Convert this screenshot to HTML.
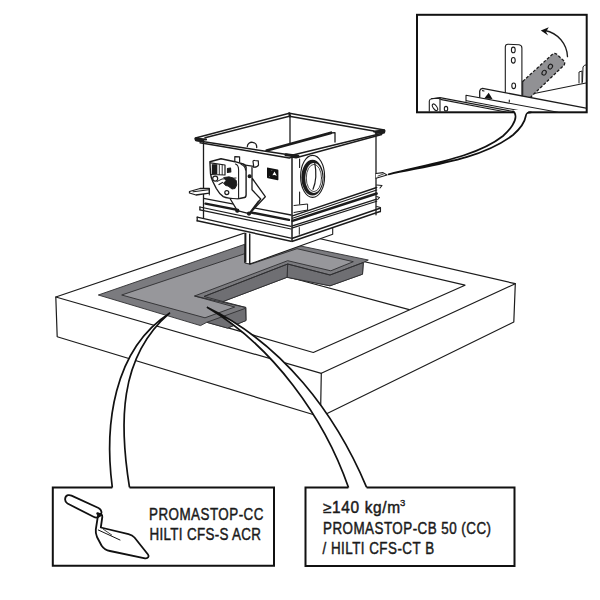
<!DOCTYPE html>
<html><head><meta charset="utf-8">
<style>
html,body{margin:0;padding:0;background:#fff;width:600px;height:600px;overflow:hidden}
svg{display:block}
text{font-family:"Liberation Sans",sans-serif;fill:#1a1a1a}
</style></head><body>
<svg width="600" height="600" viewBox="0 0 600 600">
<g fill="none" stroke="#1c1c1c" stroke-width="1.2" stroke-linejoin="round" stroke-linecap="round">
<!-- slab -->
<polygon fill="#fff" points="55.8,297 265,226 515.3,283.7 513.8,322 320.5,416.8 57.2,336.7"/>
<polyline points="55.8,297 321.3,373.3 515.3,283.7"/>
<line x1="321.3" y1="373.3" x2="320.5" y2="416.8"/>
<!-- inner rect on slab top -->
<polyline points="228.2,327.9 313.3,352.5 465,285.2 340,256"/>
<line x1="288.3" y1="277" x2="409.2" y2="309.7"/>
</g>
<!-- seal -->
<g stroke="#2e2e30" stroke-width="0.9" stroke-linejoin="round">
<polygon fill="#7b7b7f" points="98.3,295 244.7,244.3 244.7,263 250.3,264.3 298.3,245.5 368.3,260 363.3,262.5 362.5,274.2 330,285.8 287,277.3 223,301.5 246,307.5 246,320.5 227.5,328.1 206.8,322.3 200.5,325.6"/>
<polygon fill="#97979b" points="121.7,295 244.7,253.7 244.7,263 250.3,264.3 297,248.7 353.3,261.7 330.8,270.8 287.7,260.7 194.5,296 234.7,307 205,317.8"/>
<polygon fill="#6f6f73" points="287.7,264 330,275 363.3,262.5 362.5,274.2 330,285.8 287,277.3"/>
<polygon fill="#6f6f73" points="287.7,264 287,277.3 223,301.5 204,296.5"/>
<polygon fill="#6f6f73" points="206.8,322.3 245.5,308.3 246,320.5 227.5,328.1"/>
<polyline fill="none" points="204,296.5 287.7,264 330,275 363.3,262.5"/>
<polyline fill="none" points="194.5,296 246,307.5"/>
</g>
<!-- duct column -->
<g fill="#fff" stroke="#1c1c1c" stroke-width="1.1" stroke-linejoin="round">
<polygon points="245.4,226 249.7,226 249.7,264 332.7,234.3 332.7,226"/>
<line x1="245.4" y1="228" x2="245.4" y2="262.5" stroke-width="2"/>
<line x1="249.7" y1="228" x2="249.7" y2="264"/>
</g>
<!-- box -->
<g fill="none" stroke="#1c1c1c" stroke-width="1.3" stroke-linejoin="round" stroke-linecap="round">
<polygon fill="#fff" stroke="none" points="195.5,138 289.3,113.3 384.3,130 384.3,133 376,135 376,186 381,208 381,211.5 292.5,241.8 197,223.6 197,220.8 203.5,210 203.5,142.5 195.5,140.5"/>
<!-- rim -->
<path d="M195.5,138 L289.3,113.3 L384.3,130 L384.3,132.7 L292,155.2 L195.8,140.5 Z" stroke-width="1.5"/>
<path d="M205,137.8 L289.3,116.3 L373.7,131" stroke-width="1.4"/><path d="M195.5,138.5 L206,139.5 M289.3,113.3 L290,116.5 M384.3,130.5 L374,131.5" stroke-width="2.2"/>
<path d="M200,142.8 L289.3,158 L292,157 L296,157.8 L381.7,134.5" stroke-width="1.4"/><path d="M286,154.8 L298,156.2" stroke-width="3"/><path d="M196,139.5 L203,140.8" stroke-width="2.8"/><path d="M376,132.5 L384,131.5" stroke-width="2.8"/>
<line x1="290" y1="116" x2="290" y2="143.3"/>
<line x1="266.7" y1="150.5" x2="331" y2="132.8" stroke-width="2.8"/>
<path d="M331,132.9 L335,132.7 L335,142"/>
<path d="M247.3,146.5 A4.7,4.7 0 0 1 256.7,147.5"/>
<!-- vertical edges -->
<line x1="203.5" y1="142.5" x2="203.5" y2="218"/>
<line x1="292" y1="156" x2="292" y2="241.5" stroke-width="1.5"/>
<line x1="376" y1="134.5" x2="376" y2="214.8"/>
<!-- left face bands -->
<line x1="203.6" y1="198.3" x2="291" y2="215" stroke-width="1.3"/>
<line x1="205.5" y1="203.6" x2="289" y2="219.9" stroke-width="2.4"/>
<line x1="199.9" y1="207" x2="291" y2="226.3" stroke-width="1.2"/>
<line x1="199.9" y1="209.8" x2="291" y2="229" stroke-width="1.2"/>
<line x1="197.2" y1="217.1" x2="291" y2="238.2" stroke-width="1.3"/>
<line x1="197.2" y1="220.8" x2="291" y2="241.2" stroke-width="1.5"/>
<path d="M197.2,217.1 L197.2,220.8 M199.9,207 L199.9,209.8" stroke-width="1.3"/>
<!-- right face bands -->
<line x1="292.5" y1="215.8" x2="376.7" y2="187.5" stroke-width="1.4"/>
<line x1="292.5" y1="218.3" x2="376.7" y2="190" stroke-width="1.2"/>
<line x1="292.5" y1="220.9" x2="376.7" y2="193.5" stroke-width="2.4"/>
<line x1="292.5" y1="225.8" x2="376.7" y2="199.2" stroke-width="1.4"/>
<line x1="292.5" y1="227.9" x2="376.7" y2="201.2" stroke-width="1.2"/>
<line x1="292.5" y1="238.3" x2="380" y2="208.3" stroke-width="1.5"/>
<line x1="292.5" y1="241.2" x2="380" y2="211.5" stroke-width="1.5"/>
<path d="M376.7,185 L382,185.5 L380,188 M376.7,196.5 L379.5,197.5 L377.7,199.5 M376.7,206.5 L380.5,207.5 L380.5,211.7" stroke-width="1.1"/>
<path fill="#fff" d="M376,173.5 L383,172.6 L387,175 L376,178.3" stroke-width="1.1"/><path d="M378,176 L383.5,174" stroke-width="0.8"/>
<!-- plate under box -->
<path d="M299.3,227.6 L299.3,234.3" stroke-width="1"/>
<!-- left tab -->
<path fill="#fff" d="M189.5,191.5 L200,188.5 L209.3,188.5 L209.3,193.2 L196,195 L189.5,193 Z" stroke-width="1.3"/><path d="M193,191.8 L208.5,189.8 M209.3,188.5 L209.3,195" stroke-width="1"/>
<!-- port -->
<path d="M299.6,159 L299.6,167.5 M299.6,192 L299.6,204" stroke-width="1.1"/>
<ellipse cx="312.6" cy="176.4" rx="12" ry="21" fill="#fff" stroke-width="1.1"/>
<ellipse cx="312.5" cy="177.6" rx="11.1" ry="17.9" fill="#1c1c1c" stroke="none"/>
<ellipse cx="313.9" cy="178" rx="8.7" ry="15" fill="#fff" stroke="none"/>
<ellipse cx="313.9" cy="178" rx="7.6" ry="13.6" stroke-width="0.8"/>
<path d="M314.8,163.4 C316.5,172 316,182 313,189.3" stroke-width="1.2"/>
<path d="M294,205.5 L307.6,204 L307.6,210 L294,212.5" stroke-width="1"/>
<!-- actuator -->
<path fill="#fff" d="M209.9,161.7 L221,158.75 L235,161.7 L243.2,164 C245,164.8 246.1,166 246.1,167.5 L246.1,195 C246.1,196.8 245,197.8 243.2,197.8 L237.3,199 C231,198.8 226,198 223.3,196.7 C220,194.5 218,191.5 216.3,188.5 C214.8,185.5 213.8,183.5 212.8,181.5 C211.5,178.5 210.8,176 210.5,173.3 Z" stroke-width="1.4"/>
<path d="M210.5,162.8 L225,165 L225,175 L210.5,174.5" stroke-width="1.2"/>
<rect x="211.8" y="164.2" width="5.5" height="9.8" fill="#1c1c1c" stroke="none"/>
<path d="M219.3,164.8 L219.3,174.5 M222.2,165 L222.2,174.5" stroke-width="0.9"/>
<path d="M235.5,164 C238,164.8 238.6,167 238.6,170 L238.6,197.5 M241,164.2 C244,165.5 245.5,167 245.5,170" stroke-width="1.1"/>
<path d="M234.8,161.3 L234.8,156.6 L239.6,156.8 L239.6,162" stroke-width="1.2"/>
<circle cx="215.2" cy="178.6" r="2.5" fill="#fff" stroke-width="1.2"/>
<path d="M217,181.5 L222,179 L236,178" stroke-width="1"/>
<path d="M224,177.5 L229,176.8 L233,178 L236.3,180.5 L236.8,185 L235,188.5 L232,189 L230,187.5 L228,186 L225.5,185.5 L223.5,183 L226,181 Z" fill="#1c1c1c" stroke-width="0.9"/>
<path d="M219,184.5 L222.5,182.5 M227.5,168.5 L230.5,168 L230.8,171.8 L227.5,172.3 Z" fill="#1c1c1c" stroke-width="1.2"/>
<circle cx="226.8" cy="192.6" r="2" stroke-width="1.2"/>
<!-- bracket arm -->
<path d="M245.5,165.2 L253.7,166.3 L253,161.5 Q253,160.3 254.5,160.5 L258.3,160.8 L258.5,165 C258,166.5 256.5,167 253.7,167.5" stroke-width="1.2"/>
<path d="M252,167.5 L252,189.7 L260.7,199 L249,213.5 M252,178 L265.3,196.7 L250.2,213" stroke-width="1.3"/>
<circle cx="249.6" cy="176.3" r="1.4" fill="#1c1c1c"/>
<path fill="#fff" d="M230.3,199 L237.3,210.7 L249,213.6 L258.3,201.3" stroke-width="1.3"/>
<circle cx="237.3" cy="210.7" r="1.5" fill="#1c1c1c"/>
<circle cx="249" cy="213.6" r="1.5" fill="#1c1c1c"/>
<!-- label -->
<path d="M267.3,167.6 L277.6,169.4 Q278.4,169.6 278.4,170.4 L278.4,179.6 Q278.4,180.4 277.6,180.2 L268,178.3 Q267,178 267,177.2 L267,168.2 Q267,167.5 267.3,167.6 Z" fill="#111" stroke="none"/>
<path d="M274.5,171.6 L276.8,175.8 L274.5,174.9 L272.4,175.3 Z" fill="#fff" stroke="none"/>
<circle cx="271.8" cy="170.4" r="0.5" fill="#777" stroke="none"/>
<circle cx="269.5" cy="176.5" r="0.5" fill="#777" stroke="none"/>
</g>
<!-- leaders bottom -->
<g fill="#fff" stroke="#111" stroke-width="1.7" stroke-linejoin="round" stroke-linecap="round">
<path stroke="none" d="M169.5,313.2 C112.9,349.7 104.2,426.2 112.3,487.3 L129.5,487.3 C119.5,425.7 117.9,357.7 169.5,313.2 Z"/>
<path fill="none" d="M169.5,313.2 C112.9,349.7 104.2,426.2 112.3,487.3 M169.5,313.2 C117.9,357.7 119.5,425.7 129.5,487.3"/>
<path stroke="none" d="M207.5,307.5 C272.0,345.5 324.0,416.7 348.4,487.3 L366.6,487.3 C335.1,412.4 281.8,343.4 207.5,307.5 Z"/>
<path fill="none" d="M207.5,307.5 C272.0,345.5 324.0,416.7 348.4,487.3 M207.5,307.5 C281.8,343.4 335.1,412.4 366.6,487.3"/>
</g>
<!-- inset -->
<g fill="none" stroke="#111" stroke-width="2">
<rect x="417" y="14.8" width="169.7" height="97.5" fill="#fff"/>
</g>
<g fill="none" stroke="#1c1c1c" stroke-width="1.1" stroke-linejoin="round" stroke-linecap="round">
<!-- right bracket -->
<path d="M579,83 L579,72 L582,71 L582,83 M582.5,82 L583,67 Q584,64.8 586,64.8" stroke-width="1"/>
<line x1="535.4" y1="93.2" x2="586" y2="83"/>
<!-- vertical plate -->
<path fill="#fff" d="M505.3,92.5 L505.3,47 Q505.3,44.2 508,44.2 L519,44.8 Q521.9,45.2 521.9,48 L521.9,95.6"/>
<ellipse cx="513.3" cy="49.9" rx="1.9" ry="2.8"/>
<ellipse cx="513.3" cy="60.3" rx="1.9" ry="2.8"/>
<ellipse cx="513.7" cy="85.8" rx="1.9" ry="2.8"/>
<!-- gray plate -->
<path fill="#919194" stroke="none" d="M522.7,81.4 L552.5,54.2 Q554.5,52.8 556.5,54 L563.5,60.5 Q565.5,62.5 564.2,65 L530.6,97.2 L522.7,95.6 Z"/>
<path d="M522.7,95.6 L522.7,81.4"/>
<path d="M522.7,81.4 L552.5,54.2 Q554.5,52.8 556.5,54 L563.5,60.5 Q565.5,62.5 564.2,65 L530.6,97.2" stroke-dasharray="3 1.7" stroke-width="1.3" stroke-linecap="butt"/>
<ellipse cx="544.1" cy="72.7" rx="2" ry="2.5" transform="rotate(30 544.1 72.7)"/>
<ellipse cx="550.4" cy="66.6" rx="2" ry="2.5" transform="rotate(30 550.4 66.6)"/>
<!-- arrow -->
<path d="M567.5,56.7 C567,44 558,33 545,30.5" stroke-width="1.3"/>
<polygon fill="#111" stroke="none" points="540.8,30.5 548.8,27.2 546,31.8 548.2,35.5"/>
<!-- rails -->
<path d="M429.3,111.3 L429.3,101 Q429.5,99 431.5,98.7 L440,97.5 L440,111.3 M440,97.6 L515,111.8 M441.5,99.6 L506,112"/>
<path d="M431.5,98.7 L438,98.3 L441.5,99.5"/>
<path d="M466,101.3 L466,95.2 L558,112.2 M466.7,100.7 L525,111.8"/>
<path d="M479.7,97.3 L479.7,91 Q480,88.8 482.5,88.4 L586,108.1" stroke-width="1.3"/>
<path d="M482.5,90.6 L484,91"/>
<line x1="509.3" y1="100" x2="509.3" y2="102"/>
<ellipse cx="435" cy="107.3" rx="1.8" ry="3.8" transform="rotate(-35 435 107.3)"/>
<ellipse cx="446" cy="108.7" rx="1.7" ry="2.3"/>
<polygon fill="#111" stroke="none" points="484.2,98.5 488.7,92.8 492.5,99"/>
</g>
<!-- inset leader -->
<g fill="#fff" stroke="#111" stroke-width="1.7" stroke-linejoin="round" stroke-linecap="round">
<path stroke="none" d="M388.7,174.3 C427,164 475,158 503,136 C511,129 516,121 515.5,116 C515.3,113.5 514.5,112 513,110 L530,110 C527,112.3 526.2,113.5 525.8,116 C525,121 521,128 513,135 C480,160 430,165 388.7,174.3 Z"/>
<path fill="none" d="M388.7,174.3 C427,164 475,158 503,136 C511,129 516,121 515.5,116 C515.3,113.5 514.5,112 513,111.3 M388.7,174.3 C430,165 480,160 513,135 C521,128 525,121 525.8,116 C526.2,113.5 527,112.3 531,112.3"/>
</g>
<!-- text boxes -->
<g fill="#fff" stroke="#111" stroke-width="2">
<polyline points="112.3,487.6 52.8,487.6 52.8,565.7 274,565.7 274,487.6 129.5,487.6"/>
<polyline points="348.4,487.6 305.5,487.6 305.5,566 514.5,566 514.5,487.6 366.6,487.6"/>
</g>
<!-- trowel -->
<g fill="none" stroke="#111" stroke-width="1.8" stroke-linejoin="round" stroke-linecap="round">
<path d="M71.5,495.6 L98.5,508 C102,509.8 102.5,514 99.5,516.2 C97.8,517.8 95.5,517.8 93.5,516.8 L67.5,503.5 C64,501.5 64.5,496 68,495.2 C69.2,494.9 70.4,495.1 71.5,495.6 Z"/>
<path d="M98,515.5 L95.8,529.5 C95.5,532 96,534.5 97,537 L101.5,545.5 C103.5,548.5 106.5,550.5 110,551 L145,558.3 C148,558.8 149.5,556.5 148,554.5 L134.5,537.5 C133,535.8 131,534.8 128.5,534.2 L100.8,527.5 L102.3,517 C102.6,514.5 100.5,512.5 98,515.5 Z"/>
<path d="M98.3,530 L120,540" stroke-width="1"/>
<path d="M103.3,529.2 L111.7,535" stroke-width="0.8"/>
<path d="M97.5,513.5 L101,515" stroke-width="2.5"/>
</g>
<g stroke="#1a1a1a" stroke-width="0.45" fill="#1a1a1a">
<text transform="matrix(0.860 0 0 1 149.00 519.80)" font-size="15.6" letter-spacing="0.55">PROMASTOP-CC</text>
<text transform="matrix(0.860 0 0 1 149.50 540.00)" font-size="15.6" letter-spacing="0.38">HILTI CFS-S ACR</text>
<text transform="matrix(0.990 0 0 1 323.00 513.30)" font-size="15.6" letter-spacing="0.65">≥140 kg/m</text>
<text x="400" y="506.3" font-size="9.5" stroke-width="0.35">3</text>
<text transform="matrix(0.860 0 0 1 323.00 533.60)" font-size="15.6" letter-spacing="0.55">PROMASTOP-CB 50 (CC)</text>
<text transform="matrix(0.860 0 0 1 322.50 554.00)" font-size="15.6" letter-spacing="0.55">/ HILTI CFS-CT B</text>
</g>
</svg>
</body></html>
